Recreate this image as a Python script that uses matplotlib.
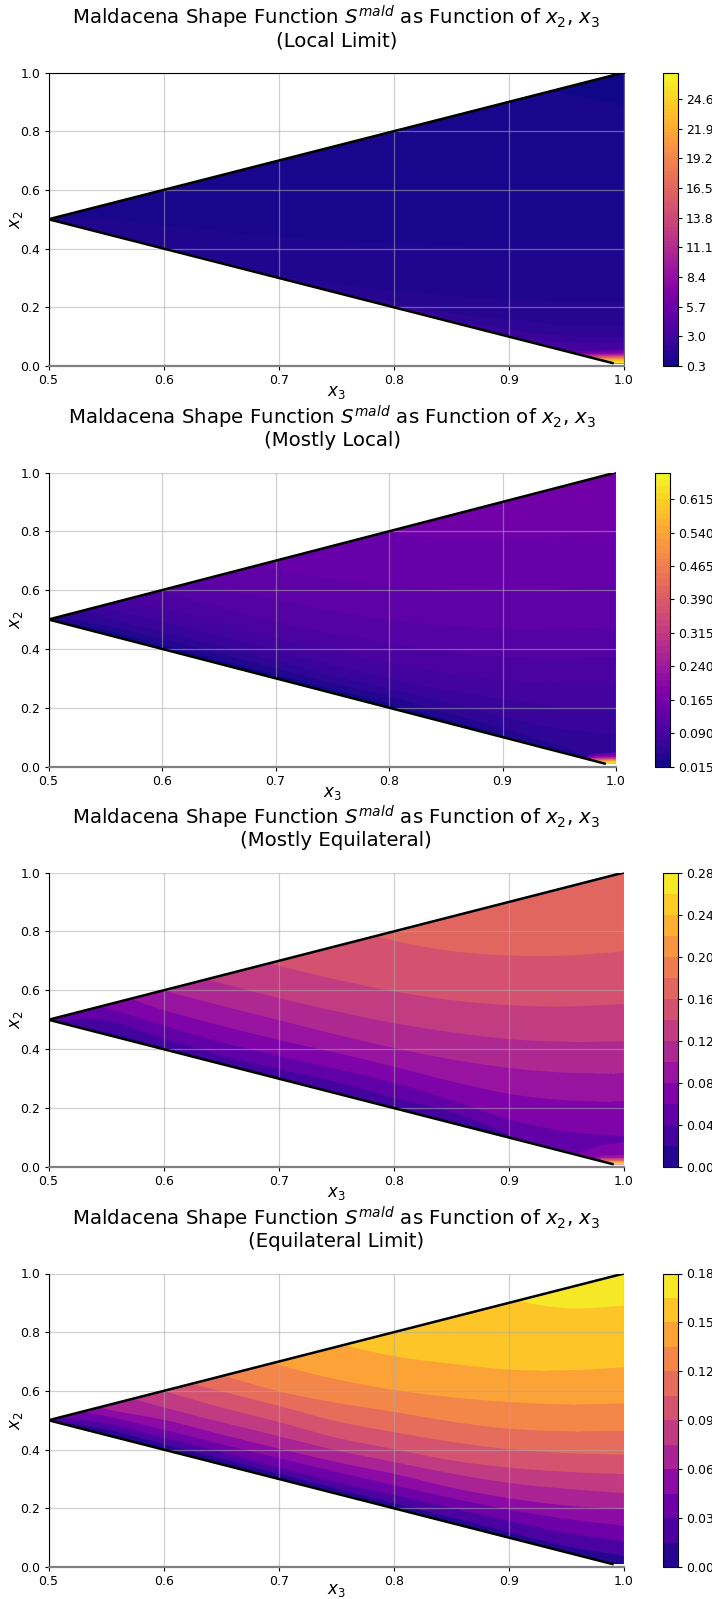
import numpy as np
import matplotlib
matplotlib.use("Agg")
import matplotlib.pyplot as plt
from matplotlib.cm import ScalarMappable
from matplotlib.colors import BoundaryNorm, ListedColormap, Normalize
from matplotlib.patches import Polygon

# x2 of each visible contour at these x3 positions
x3_grid = [0.5, 0.55, 0.6, 0.65, 0.7, 0.75, 0.8, 0.85, 0.9, 0.95, 1.0]

titles = ["Local Limit", "Mostly Local", "Mostly Equilateral", "Equilateral Limit"]

# Local limit: value grows towards the lower right
levels_1 = np.arange(0.3, 27.01, 0.3)
ticks_1 = [0.3, 3.0, 5.7, 8.4, 11.1, 13.8, 16.5, 19.2, 21.9, 24.6]
iso_values_1 = [0.6, 0.9, 1.2, 1.5, 2.1, 3.0]
iso_x2_1 = [
    [1, 1, 1, 1, 1, 1, 1, 1, 0.95, 0.93, 0.889],
    [0.50, 0.50, 0.48, 0.46, 0.44, 0.43, 0.42, 0.41, 0.40, 0.40, 0.40],
    [0.50, 0.46, 0.40, 0.35, 0.31, 0.28, 0.26, 0.24, 0.23, 0.22, 0.22],
    [0, 0, 0, 0.33, 0.29, 0.25, 0.22, 0.18, 0.16, 0.14, 0.14],
    [0, 0, 0, 0, 0, 0, 0.19, 0.16, 0.125, 0.105, 0.10],
    [0, 0, 0, 0, 0, 0, 0, 0, 0.09, 0.08, 0.08],
]
corner_x3_1 = [0.9, 0.95, 1.0]
corner_values_1 = [4.2, 5.7, 8.4, 11.1, 13.8, 16.5, 19.2, 21.9, 24.6]
corner_x2_1 = [
    [0, 0.05, 0.06],
    [0, 0.045, 0.052],
    [0, 0.04, 0.045],
    [0, 0.036, 0.04],
    [0, 0.032, 0.036],
    [0, 0.029, 0.032],
    [0, 0.026, 0.028],
    [0, 0.022, 0.024],
    [0, 0.016, 0.018],
]

# Mostly local: value grows upwards, bright corner at the lower right
levels_2 = np.arange(0.015, 0.6751, 0.015)
ticks_2 = [0.015, 0.090, 0.165, 0.240, 0.315, 0.390, 0.465, 0.540, 0.615]
iso_values_2 = [0.03, 0.045, 0.06, 0.075, 0.09, 0.105, 0.12, 0.135, 0.15]
iso_x2_2 = [
    [0.50, 0.465, 0.415, 0.365, 0.315, 0.265, 0.215, 0.16, 0.105, 0.0, 0.0],
    [0.52, 0.48, 0.435, 0.385, 0.335, 0.285, 0.24, 0.185, 0.13, 0.07, 0.0],
    [0.56, 0.505, 0.46, 0.41, 0.36, 0.31, 0.265, 0.22, 0.17, 0.13, 0.11],
    [0.62, 0.54, 0.495, 0.445, 0.395, 0.345, 0.30, 0.26, 0.23, 0.205, 0.20],
    [0.70, 0.58, 0.54, 0.49, 0.44, 0.395, 0.355, 0.32, 0.295, 0.285, 0.285],
    [0.80, 0.65, 0.595, 0.545, 0.495, 0.455, 0.42, 0.39, 0.375, 0.37, 0.375],
    [0.90, 0.80, 0.67, 0.61, 0.57, 0.53, 0.50, 0.48, 0.47, 0.47, 0.475],
    [1, 0.90, 0.80, 0.70, 0.67, 0.64, 0.615, 0.605, 0.60, 0.605, 0.62],
    [1, 1, 1, 1, 1, 0.90, 0.80, 0.78, 0.78, 0.785, 0.80],
]
corner_x3_2 = [0.95, 0.98, 1.0]
corner_values_2 = [0.12, 0.165, 0.24, 0.315, 0.39, 0.465, 0.54, 0.615]
corner_x2_2 = [
    [0.0, 0.045, 0.05],
    [0.0, 0.037, 0.04],
    [0.0, 0.032, 0.034],
    [0.0, 0.029, 0.03],
    [0.0, 0.026, 0.027],
    [0.0, 0.023, 0.024],
    [0.0, 0.02, 0.021],
    [0.0, 0.016, 0.017],
]

# Mostly equilateral
levels_3 = np.arange(0, 0.2801, 0.02)
ticks_3 = [0.00, 0.04, 0.08, 0.12, 0.16, 0.20, 0.24, 0.28]
iso_values_3 = [0.02, 0.04, 0.06, 0.08, 0.10, 0.12, 0.14, 0.16]
iso_x2_3 = [
    [0.50, 0.458, 0.408, 0.357, 0.307, 0.253, 0.207, 0.156, 0.105, 0.0, 0.0],
    [0.50, 0.498, 0.436, 0.380, 0.334, 0.289, 0.235, 0.188, 0.108, 0.0, 0.0],
    [0.59, 0.54, 0.481, 0.425, 0.378, 0.334, 0.287, 0.227, 0.163, 0.122, 0.106],
    [0.65, 0.60, 0.534, 0.481, 0.433, 0.389, 0.342, 0.292, 0.250, 0.228, 0.225],
    [0.75, 0.65, 0.60, 0.549, 0.50, 0.451, 0.406, 0.367, 0.338, 0.322, 0.320],
    [1, 0.73, 0.68, 0.625, 0.575, 0.530, 0.490, 0.459, 0.436, 0.427, 0.428],
    [1, 1, 0.79, 0.74, 0.685, 0.638, 0.598, 0.568, 0.551, 0.547, 0.555],
    [1, 1, 1, 1, 0.90, 0.83, 0.77, 0.735, 0.72, 0.72, 0.734],
]
corner_x3_3 = [0.95, 0.96, 0.98, 1.0]
corner_values_3 = [0.06, 0.08, 0.10, 0.12, 0.14, 0.16, 0.18, 0.20, 0.22, 0.24, 0.26]
corner_x2_3 = [
    [0.03, 0.05, 0.077, 0.086],
    [0.0, 0.02, 0.04, 0.043],
    [0.0, 0.0, 0.033, 0.034],
    [0.0, 0.0, 0.03, 0.03],
    [0.0, 0.0, 0.027, 0.027],
    [0.0, 0.0, 0.024, 0.024],
    [0.0, 0.0, 0.021, 0.021],
    [0.0, 0.0, 0.019, 0.019],
    [0.0, 0.0, 0.016, 0.016],
    [0.0, 0.0, 0.014, 0.014],
    [0.0, 0.0, 0.012, 0.012],
]

# Equilateral limit
levels_4 = np.arange(0, 0.1801, 0.015)
ticks_4 = [0.00, 0.03, 0.06, 0.09, 0.12, 0.15, 0.18]
iso_values_4 = [0.015, 0.03, 0.045, 0.06, 0.075, 0.09, 0.105, 0.12, 0.135, 0.15, 0.165]
iso_x2_4 = [
    [0.50, 0.470, 0.419, 0.370, 0.319, 0.268, 0.219, 0.170, 0.120, 0.072, 0.040],
    [0.515, 0.490, 0.442, 0.393, 0.340, 0.291, 0.246, 0.202, 0.158, 0.117, 0.089],
    [0.55, 0.515, 0.469, 0.420, 0.372, 0.325, 0.280, 0.236, 0.197, 0.165, 0.142],
    [0.60, 0.54, 0.503, 0.453, 0.405, 0.359, 0.319, 0.272, 0.236, 0.211, 0.199],
    [0.65, 0.60, 0.545, 0.495, 0.447, 0.399, 0.359, 0.320, 0.288, 0.268, 0.253],
    [0.70, 0.65, 0.60, 0.545, 0.495, 0.442, 0.403, 0.365, 0.340, 0.326, 0.318],
    [0.75, 0.70, 0.65, 0.60, 0.55, 0.498, 0.461, 0.428, 0.403, 0.390, 0.384],
    [0.81, 0.76, 0.71, 0.655, 0.60, 0.561, 0.530, 0.497, 0.473, 0.464, 0.466],
    [1, 1, 0.81, 0.75, 0.69, 0.641, 0.605, 0.580, 0.564, 0.556, 0.559],
    [1, 1, 1, 1, 0.83, 0.765, 0.72, 0.694, 0.674, 0.672, 0.682],
    [1, 1, 1, 1, 1, 1, 1, 0.97, 0.915, 0.883, 0.892],
]

# one panel per row: axes and colorbar edges in pixels of the picture
W, H = 712, 1599
paneele = [
    (48.5, 624, 72.5, 366, 663, 677.5),
    (48.5, 616, 472.5, 766.5, 655, 669.5),
    (48.5, 624, 872.5, 1167, 663, 677.5),
    (48.5, 624, 1273.5, 1567, 663, 677.5),
]


def kolor_pasma(levels, v, nastepny):
    norm = Normalize(levels[0], levels[-1])
    return plt.cm.plasma(norm((v + nastepny) / 2))


def gladka(x, y):
    # smooth curve through the read points, only for drawing
    x = np.asarray(x, dtype=float)
    y = np.asarray(y, dtype=float)
    m = np.gradient(y, x)
    xx = np.linspace(x[0], x[-1], 200)
    i = np.clip(np.searchsorted(x, xx, side="right") - 1, 0, len(x) - 2)
    h = x[i + 1] - x[i]
    t = (xx - x[i]) / h
    yy = ((2 * t**3 - 3 * t**2 + 1) * y[i] + (t**3 - 2 * t**2 + t) * h * m[i]
          + (-2 * t**3 + 3 * t**2) * y[i + 1] + (t**3 - t**2) * h * m[i + 1])
    return xx, yy


def narysuj_panel(nr, levels, ticks, iso_values, iso_x2, w_gore, corner=None, fmt="%.1f"):
    x0, x1, y0, y1, c0, c1 = paneele[nr]
    ax = fig.add_axes([x0 / W, 1 - y1 / H, (x1 - x0) / W, (y1 - y0) / H])
    cax = fig.add_axes([c0 / W, 1 - y1 / H, (c1 - c0) / W, (y1 - y0) / H])

    trojkat = Polygon([(0.5, 0.5), (1, 1), (1, 0.01), (0.99, 0.01)], transform=ax.transData, fc="none", ec="none")
    ax.add_patch(trojkat)

    # base band, then contours painted one over the other
    krok = levels[1] - levels[0]
    wartosci = [levels[0]] + list(iso_values) + [iso_values[-1] + krok]
    pasma = [ax.fill_between([0.5, 1.0], 0, 1, color=kolor_pasma(levels, wartosci[0], wartosci[1]), lw=0)]
    for i, krzywa in enumerate(iso_x2):
        kolor = kolor_pasma(levels, wartosci[i + 1], wartosci[i + 2])
        xx, yy = gladka(x3_grid, krzywa)
        if w_gore:
            pasma.append(ax.fill_between(xx, yy, 1.2, color=kolor, lw=0))
        else:
            pasma.append(ax.fill_between(xx, -0.2, yy, color=kolor, lw=0))

    if corner is not None:
        rog_x3, rog_values, rog_x2 = corner
        rog_wartosci = list(rog_values) + [levels[-1]]
        for i, krzywa in enumerate(rog_x2):
            kolor = kolor_pasma(levels, rog_wartosci[i], rog_wartosci[i + 1])
            pasma.append(ax.fill_between(rog_x3, 0, krzywa, color=kolor, lw=0))

    for p in pasma:
        p.set_clip_path(trojkat)

    ax.plot([0.5, 1.0], [0.5, 1.0], color="black", lw=1.8, zorder=3)
    ax.plot([0.5, 0.99], [0.5, 0.01], color="black", lw=1.8, zorder=3)

    ax.set_xlim(0.5, 1.0)
    ax.set_ylim(0, 1.0)
    ax.set_xticks([0.5, 0.6, 0.7, 0.8, 0.9, 1.0])
    ax.set_yticks([0.0, 0.2, 0.4, 0.6, 0.8, 1.0])
    ax.tick_params(labelsize=9, length=3, pad=3)
    ax.set_axisbelow(False)
    ax.grid(True, color="#aaaaaa", alpha=0.55, lw=0.9)

    for s in ax.spines.values():
        s.set_zorder(4)
    ax.spines["bottom"].set_color("#808080")
    ax.spines["bottom"].set_linewidth(1.6)
    if nr == 0:
        ax.spines["right"].set_color("#666666")
    else:
        ax.spines["top"].set_visible(False)
        ax.spines["right"].set_visible(False)

    ax.set_xlabel(r"$x_3$", fontsize=12, labelpad=-5 if nr == 3 else -3)
    ax.set_ylabel(r"$x_2$", fontsize=12, labelpad=-3.5)
    ax.set_title(
        r"Maldacena Shape Function $S^{mald}$ as Function of $x_2$, $x_3$" + "\n(" + titles[nr] + ")",
        fontsize=14.2, pad=19, linespacing=0.98,
    )

    srodki = (levels[:-1] + levels[1:]) / 2
    cmap = ListedColormap(plt.cm.plasma(Normalize(levels[0], levels[-1])(srodki)))
    sm = ScalarMappable(norm=BoundaryNorm(levels, cmap.N), cmap=cmap)
    cbar = fig.colorbar(sm, cax=cax, ticks=ticks, format=fmt)
    cbar.minorticks_off()
    cbar.ax.tick_params(labelsize=9, length=3, pad=3)


fig = plt.figure(figsize=(W / 100, H / 100), dpi=100)

narysuj_panel(0, levels_1, ticks_1, iso_values_1, iso_x2_1, False,
              (corner_x3_1, corner_values_1, corner_x2_1), "%.1f")
narysuj_panel(1, levels_2, ticks_2, iso_values_2, iso_x2_2, True,
              (corner_x3_2, corner_values_2, corner_x2_2), "%.3f")
narysuj_panel(2, levels_3, ticks_3, iso_values_3, iso_x2_3, True,
              (corner_x3_3, corner_values_3, corner_x2_3), "%.2f")
narysuj_panel(3, levels_4, ticks_4, iso_values_4, iso_x2_4, True, None, "%.2f")

fig.savefig("out.png", dpi=100)
